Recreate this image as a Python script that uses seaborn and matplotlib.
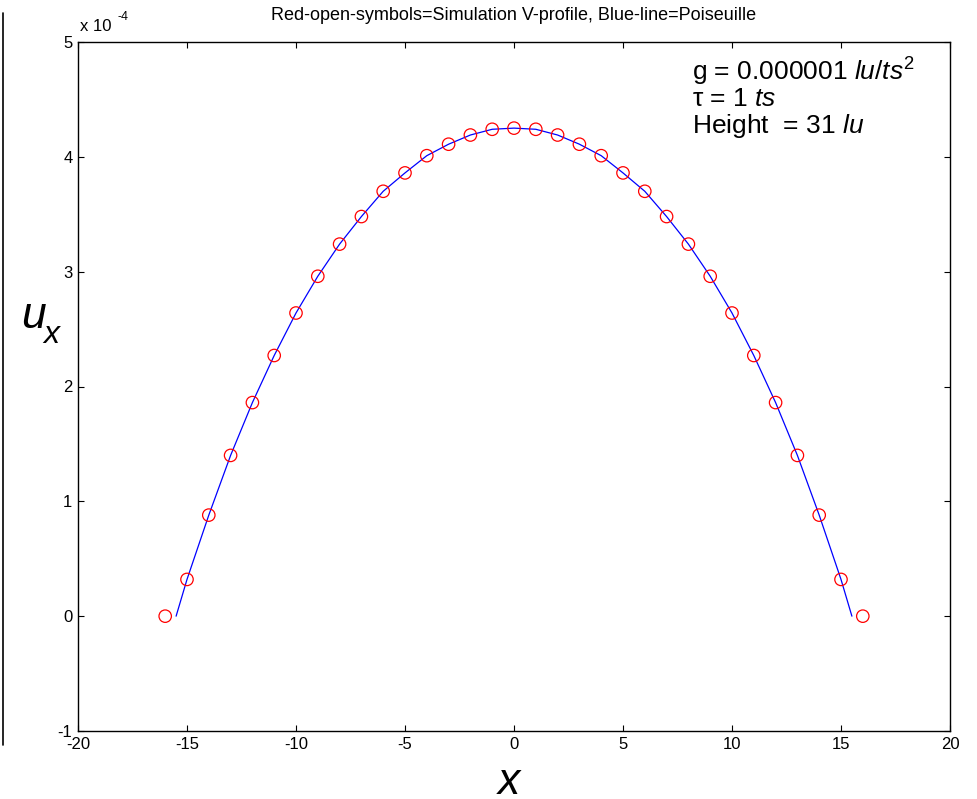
import numpy as np
import pandas as pd
import seaborn as sns
import matplotlib.pyplot as plt
from matplotlib.lines import Line2D

# simulated velocity profile (units of 1e-4 lu/ts)
x_sim = [-16, -15, -14, -13, -12, -11, -10, -9, -8, -7, -6, -5, -4, -3, -2, -1,
         0, 1, 2, 3, 4, 5, 6, 7, 8, 9, 10, 11, 12, 13, 14, 15, 16]
u_sim = [0.0, 0.32, 0.88, 1.40, 1.86, 2.27, 2.64, 2.96, 3.24, 3.48, 3.70, 3.86, 4.01, 4.11, 4.19, 4.24,
         4.25, 4.24, 4.19, 4.11, 4.01, 3.86, 3.70, 3.48, 3.24, 2.96, 2.64, 2.27, 1.86, 1.40, 0.88, 0.32, 0.0]
# poiseuille line (units of 1e-4)
x_poi = [-15.5, -15, -14, -13, -12, -11, -10, -9, -8, -7, -6, -5, -4, -3, -2, -1,
         0, 1, 2, 3, 4, 5, 6, 7, 8, 9, 10, 11, 12, 13, 14, 15, 15.5]
u_poi = [0.0, 0.32, 0.88, 1.40, 1.86, 2.27, 2.64, 2.96, 3.24, 3.48, 3.70, 3.86, 4.01, 4.11, 4.19, 4.24,
         4.25, 4.24, 4.19, 4.11, 4.01, 3.86, 3.70, 3.48, 3.24, 2.96, 2.64, 2.27, 1.86, 1.40, 0.88, 0.32, 0.0]

x_ticks = [-20, -15, -10, -5, 0, 5, 10, 15, 20]
y_ticks = [-1, 0, 1, 2, 3, 4, 5]

sim_df = pd.DataFrame({"x": x_sim, "u": u_sim})
poi_df = pd.DataFrame({"x": x_poi, "u": u_poi})

sns.set_theme(style="ticks")
plt.rcParams["font.family"] = ["Liberation Sans", "DejaVu Sans"]
plt.rcParams["mathtext.fontset"] = "custom"
plt.rcParams["mathtext.rm"] = "Liberation Sans"
plt.rcParams["mathtext.it"] = "Liberation Sans:italic"
plt.rcParams["axes.unicode_minus"] = False
plt.rcParams["text.color"] = "black"

W, H = 978, 799
fig = plt.figure(figsize=(W / 100, H / 100), dpi=100)
ax = fig.add_axes([78 / W, 1 - 731 / H, 872 / W, 689 / H])

sns.lineplot(data=poi_df, x="x", y="u", sort=False, color="#0000ff", linewidth=0.9, ax=ax)
sns.scatterplot(data=sim_df, x="x", y="u", marker="o", s=80, facecolor="none",
                edgecolor="#ff0000", linewidth=0.9, ax=ax, zorder=3)

ax.set_xlim(-20, 20)
ax.set_ylim(-1, 5)
ax.set_xticks(x_ticks)
ax.set_yticks(y_ticks)
ax.set_xticklabels([str(t) for t in x_ticks])
ax.set_yticklabels([str(t) for t in y_ticks])
ax.set(xlabel="", ylabel="")
ax.tick_params(direction="in", length=4, width=0.8, top=True, right=True,
               labelsize=12, colors="black", labelcolor="black", pad=4)
for sp in ax.spines.values():
    sp.set_visible(True)
    sp.set_color("black")
    sp.set_linewidth(1.0)

# exponent
ax.text(0.002, 1.012, "x 10", transform=ax.transAxes, ha="left", va="bottom", fontsize=12, color="black")
ax.text(0.045, 1.028, "-4", transform=ax.transAxes, ha="left", va="bottom", fontsize=9, color="black")

# title
fig.text(514 / W, 1 - 16 / H, "Red-open-symbols=Simulation V-profile, Blue-line=Poiseuille",
         ha="center", va="center", fontsize=13, color="black")

# axis labels
fig.text(21 / W, 1 - 328 / H, "u", style="italic", fontsize=32, ha="left", va="baseline", color="black")
fig.text(43 / W, 1 - 343 / H, "x", style="italic", fontsize=23, ha="left", va="baseline", color="black")
fig.text(509 / W, 1 - 794 / H, "x", style="italic", fontsize=32, ha="center", va="baseline", color="black")

# parameters
fs = 19
fig.text(692 / W, 1 - 81 / H, r"g = 0.000001 $lu/ts^{2}$", fontsize=fs, ha="left", va="baseline")
fig.text(692 / W, 1 - 106 / H, r"τ = 1 $ts$", fontsize=fs, ha="left", va="baseline")
fig.text(692 / W, 1 - 133 / H, r"Height  = 31 $lu$", fontsize=fs, ha="left", va="baseline")

# left frame line
fig.add_artist(Line2D([3 / W, 3 / W], [1 - 13 / H, 1 - 745 / H], color="black", linewidth=1.2))

fig.savefig("out.png", dpi=100, facecolor="white")
